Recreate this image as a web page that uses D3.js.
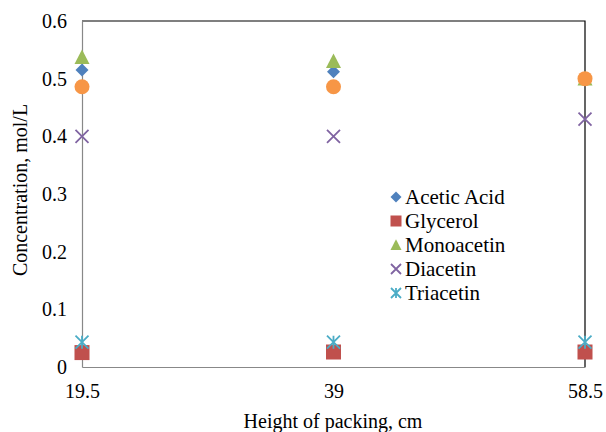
<!DOCTYPE html>
<html><head><meta charset="utf-8">
<script src="https://cdn.jsdelivr.net/npm/d3@7"></script>
<style>body{margin:0;background:#fff}svg{display:block}text{font-family:"Liberation Serif","Times New Roman",serif;fill:#000}</style>
</head><body>
<script>
const heights = [19.5, 39, 58.5];
const acetic = [0.515, 0.512, 0.50];
const glycerol = [0.025, 0.026, 0.026];
const monoacetin = [0.537, 0.530, 0.50];
const diacetin = [0.40, 0.40, 0.43];
const triacetin = [0.043, 0.043, 0.043];
const unlabeled = [0.486, 0.486, 0.50];
const yTicks = [0, 0.1, 0.2, 0.3, 0.4, 0.5, 0.6];
const xTicks = [19.5, 39, 58.5];

const series = [
  {name:"Acetic Acid", values:acetic, shape:"diamond", color:"#4F81BD", legend:true},
  {name:"Glycerol", values:glycerol, shape:"square", color:"#C0504D", legend:true},
  {name:"Monoacetin", values:monoacetin, shape:"triangle", color:"#9BBB59", legend:true},
  {name:"Diacetin", values:diacetin, shape:"x", color:"#8064A2", legend:true},
  {name:"Triacetin", values:triacetin, shape:"star", color:"#4BACC6", legend:true},
  {name:"", values:unlabeled, shape:"circle", color:"#F79646", legend:false}
];

const W = 606, H = 432;
const svg = d3.select("body").append("svg").attr("width", W).attr("height", H);
const x = d3.scaleLinear().domain([19.5, 58.5]).range([82, 585]);
const y = d3.scaleLinear().domain([0, 0.6]).range([367, 21]);

// plot border (top/right black)
svg.append("path").attr("d", `M${x(19.5)},${y(0.6)}H${x(58.5)}V${y(0)}`)
  .attr("fill","none").attr("stroke","#000").attr("stroke-width",1.2);

const yAxis = svg.append("g").attr("transform", `translate(${x(19.5)},0)`)
  .call(d3.axisLeft(y).tickValues(yTicks).tickSize(0).tickPadding(15).tickFormat(d3.format("")));
yAxis.select(".domain").attr("stroke","#888").attr("stroke-width",1.2);
yAxis.selectAll("text").attr("font-size",20).attr("font-family","Liberation Serif");

const xAxis = svg.append("g").attr("transform", `translate(0,${y(0)})`)
  .call(d3.axisBottom(x).tickValues(xTicks).tickSize(0).tickPadding(17).tickFormat(d3.format("")));
xAxis.select(".domain").attr("stroke","#888").attr("stroke-width",1.2);
xAxis.selectAll("text").attr("font-size",20).attr("font-family","Liberation Serif");

svg.append("text").attr("x", 333).attr("y", 428).attr("text-anchor","middle")
  .attr("font-size",20).text("Height of packing, cm");
svg.append("text").attr("transform","translate(27,190) rotate(-90)").attr("text-anchor","middle")
  .attr("font-size",20).text("Concentration, mol/L");

function drawMarker(g, shape, color, s) {
  const h = s/2;
  if (shape === "diamond") g.append("path").attr("d", `M0,${-h}L${h},0L0,${h}L${-h},0Z`).attr("fill", color);
  else if (shape === "square") g.append("rect").attr("x",-h).attr("y",-h).attr("width",s).attr("height",s).attr("fill",color);
  else if (shape === "triangle") g.append("path").attr("d", `M0,${-h*1.05}L${h},${h*0.9}L${-h},${h*0.9}Z`).attr("fill", color);
  else if (shape === "circle") g.append("circle").attr("r", h).attr("fill", color);
  else if (shape === "x") g.append("path").attr("d", `M${-h},${-h}L${h},${h}M${-h},${h}L${h},${-h}`).attr("stroke", color).attr("stroke-width",1.8).attr("fill","none");
  else if (shape === "star") g.append("path").attr("d", `M${-h},${-h}L${h},${h}M${-h},${h}L${h},${-h}M0,${-h}V${h}`).attr("stroke", color).attr("stroke-width",1.8).attr("fill","none");
}
const sizes = {diamond:13, square:15, triangle:15, circle:15, x:13, star:13};

series.forEach(sr => {
  const g = svg.append("g");
  sr.values.forEach((v, i) => {
    const m = g.append("g").attr("transform", `translate(${x(heights[i])},${y(v)})`);
    drawMarker(m, sr.shape, sr.color, sizes[sr.shape]);
  });
});

// legend
const leg = svg.append("g");
series.filter(s => s.legend).forEach((sr, i) => {
  const ly = 197 + i*24;
  const m = leg.append("g").attr("transform", `translate(396,${ly})`);
  drawMarker(m, sr.shape, sr.color, sr.shape === "x" || sr.shape === "star" ? 10 : 11);
  leg.append("text").attr("x", 405).attr("y", ly + 7).attr("font-size", 21).text(sr.name);
});
</script>
</body></html>
